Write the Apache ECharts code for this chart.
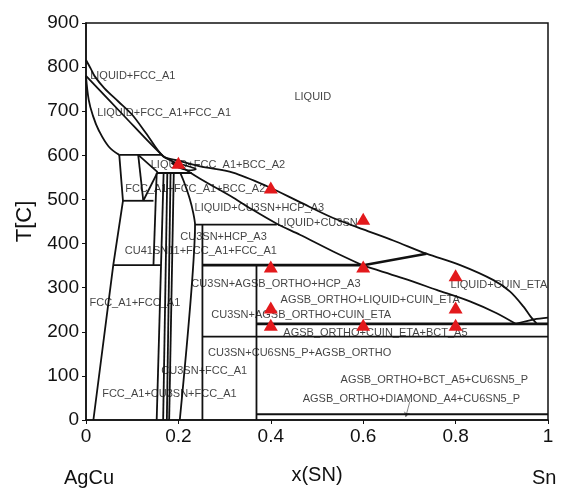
<!DOCTYPE html>
<html>
<head>
<meta charset="utf-8">
<script src="https://cdn.jsdelivr.net/npm/echarts@6/dist/echarts.min.js"></script>
<style>
  html, body { margin: 0; padding: 0; background: #fff; }
  #main { width: 561px; height: 490px; }
</style>
</head>
<body>
<div id="main"></div>
<script>
// phase boundaries, [x(SN), T(C)]
var liquidusUpper = [[0, 816], [0.01, 797], [0.019, 779], [0.04, 752], [0.07, 722], [0.1, 692], [0.13, 650],
  [0.167, 598], [0.2, 588], [0.247, 575], [0.318, 561], [0.392, 530], [0.463, 494], [0.535, 458], [0.6, 432],
  [0.665, 407], [0.737, 377], [0.81, 351], [0.882, 317], [0.918, 291], [0.947, 257], [0.962, 235], [0.975, 219]];
var liquidusLower = [[0, 780], [0.08, 692], [0.167, 598], [0.19, 585], [0.247, 547], [0.319, 504], [0.36, 477],
  [0.413, 445], [0.463, 420], [0.535, 382], [0.6, 350]];
var fccSolidus = [[0, 780], [0.006, 725], [0.015, 690], [0.027, 658], [0.049, 620], [0.072, 601]];
var etaLiquidus = [[0.6, 350], [0.687, 321], [0.759, 295], [0.831, 269], [0.889, 242], [0.93, 218]];
var snCorner = [[0.93, 218], [0.97, 228], [1, 232]];
var cu3snEdge = [[0.204, 560], [0.212, 540], [0.225, 500], [0.232, 470], [0.236, 443], [0.203, 0]];
var bccLens = [[0.185, 583], [0.205, 580], [0.225, 574], [0.238, 569], [0.222, 566], [0.2, 572], [0.185, 583]];
var fccLeft = [[0.072, 601], [0.08, 497], [0.059, 351], [0.016, 0]];
var bandLines = [
  [[0.153, 560], [0.146, 351]],
  [[0.168, 560], [0.153, 0]],
  [[0.176, 560], [0.167, 0]],
  [[0.183, 560], [0.175, 0]],
  [[0.19, 560], [0.18, 0]]
];
var thinLines = [
  [[0.072, 601], [0.165, 601]],
  [[0.08, 497], [0.146, 497]],
  [[0.113, 601], [0.124, 497]],
  [[0.113, 601], [0.155, 562]],
  [[0.155, 562], [0.124, 497]],
  [[0.153, 560], [0.229, 560]],
  [[0.059, 351], [0.162, 351]],
  [[0.236, 443], [0.413, 443]],
  [[0.252, 443], [0.252, 0]],
  [[0.369, 351], [0.369, 0]],
  [[0.252, 189], [1, 189]],
  [[0.369, 13], [1, 13]]
];
var thickLines = [
  [[0.252, 351], [0.6, 351]],
  [[0.6, 351], [0.737, 377]],
  [[0.369, 218], [1, 218]]
];
var calcPoints = [[0.2, 583], [0.4, 527], [0.6, 456], [0.4, 348], [0.6, 348], [0.8, 328],
  [0.4, 255], [0.8, 255], [0.4, 216], [0.6, 216], [0.8, 216]];
var phaseLabels = [
  [0.008, 779, 'LIQUID+FCC_A1'],
  [0.023, 696, 'LIQUID+FCC_A1+FCC_A1'],
  [0.45, 732, 'LIQUID'],
  [0.139, 579, 'LIQUID+FCC_A1+BCC_A2'],
  [0.084, 524, 'FCC_A1+FCC_A1+BCC_A2'],
  [0.234, 480, 'LIQUID+CU3SN+HCP_A3'],
  [0.413, 446, 'LIQUID+CU3SN'],
  [0.203, 416, 'CU3SN+HCP_A3'],
  [0.083, 384, 'CU41SN11+FCC_A1+FCC_A1'],
  [0.227, 308, 'CU3SN+AGSB_ORTHO+HCP_A3'],
  [0.788, 307, 'LIQUID+CUIN_ETA'],
  [0.0065, 266, 'FCC_A1+FCC_A1'],
  [0.42, 272, 'AGSB_ORTHO+LIQUID+CUIN_ETA'],
  [0.27, 237, 'CU3SN+AGSB_ORTHO+CUIN_ETA'],
  [0.426, 197, 'AGSB_ORTHO+CUIN_ETA+BCT_A5'],
  [0.263, 153, 'CU3SN+CU6SN5_P+AGSB_ORTHO'],
  [0.162, 111, 'CU3SN+FCC_A1'],
  [0.034, 59, 'FCC_A1+CU3SN+FCC_A1'],
  [0.55, 91, 'AGSB_ORTHO+BCT_A5+CU6SN5_P'],
  [0.468, 47, 'AGSB_ORTHO+DIAMOND_A4+CU6SN5_P']
];
var diamondArrow = [[0.701, 42], [0.692, 7]];

var FONT = '"Liberation Sans", Arial, sans-serif';

function boundary(points, width, smooth) {
  return {
    type: 'line',
    data: points,
    symbol: 'none',
    smooth: smooth || false,
    silent: true,
    lineStyle: { color: '#111', width: width }
  };
}

var chart = echarts.init(document.getElementById('main'));

var series = [
  boundary(liquidusUpper, 1.8, 0.3),
  boundary(liquidusLower, 1.8, 0.3),
  boundary(fccSolidus, 1.8, 0.4),
  boundary(etaLiquidus, 1.8, 0.3),
  boundary(snCorner, 1.8, 0.3),
  boundary(cu3snEdge, 1.8, 0.2),
  boundary(bccLens, 1.5, 0.4),
  boundary(fccLeft, 1.8)
];
bandLines.concat(thinLines).forEach(function (seg) {
  series.push(boundary(seg, 1.8));
});
thickLines.forEach(function (seg) {
  series.push(boundary(seg, 2.6));
});
series.push({
  type: 'lines',
  coordinateSystem: 'cartesian2d',
  polyline: false,
  symbol: ['none', 'arrow'],
  symbolSize: 5,
  silent: true,
  lineStyle: { color: '#111', width: 1 },
  data: [{ coords: diamondArrow }]
});
series.push({
  type: 'scatter',
  data: calcPoints,
  symbol: 'triangle',
  symbolSize: [14, 12],
  silent: true,
  itemStyle: { color: '#e3191c', opacity: 1 },
  z: 5
});
series.push({
  type: 'scatter',
  data: phaseLabels,
  symbolSize: 1,
  silent: true,
  itemStyle: { color: 'rgba(0,0,0,0)' },
  label: {
    show: true,
    position: 'right',
    distance: 0,
    formatter: function (p) { return p.data[2]; },
    color: '#111',
    fontSize: 11,
    fontFamily: FONT
  },
  labelLayout: { hideOverlap: false },
  z: 4
});

var option = {
  animation: false,
  backgroundColor: '#fff',
  grid: {
    left: 86,
    right: 13,
    top: 23,
    bottom: 67,
    show: true,
    borderColor: '#111',
    borderWidth: 1.5
  },
  xAxis: {
    type: 'value',
    min: 0,
    max: 1,
    interval: 0.2,
    name: 'x(SN)',
    nameLocation: 'middle',
    nameGap: 45,
    nameTextStyle: { color: '#111', fontSize: 20, fontFamily: FONT },
    axisLine: { lineStyle: { color: '#111', width: 1.5 } },
    axisTick: { length: 4, lineStyle: { color: '#111' } },
    axisLabel: { color: '#111', fontSize: 19, fontFamily: FONT, margin: 7 },
    splitLine: { show: false }
  },
  yAxis: {
    type: 'value',
    min: 0,
    max: 900,
    interval: 100,
    name: 'T[C]',
    nameLocation: 'middle',
    nameGap: 50,
    nameTextStyle: { color: '#111', fontSize: 22, fontFamily: FONT },
    axisLine: { lineStyle: { color: '#111', width: 1.5 } },
    axisTick: { length: 4, lineStyle: { color: '#111' } },
    axisLabel: { color: '#111', fontSize: 19, fontFamily: FONT, margin: 7 },
    splitLine: { show: false }
  },
  graphic: [
    { type: 'text', left: 64, top: 468, style: { text: 'AgCu', fill: '#111', fontSize: 20, fontFamily: FONT } },
    { type: 'text', left: 532, top: 468, style: { text: 'Sn', fill: '#111', fontSize: 20, fontFamily: FONT } }
  ],
  series: series
};

chart.setOption(option);
</script>
</body>
</html>
